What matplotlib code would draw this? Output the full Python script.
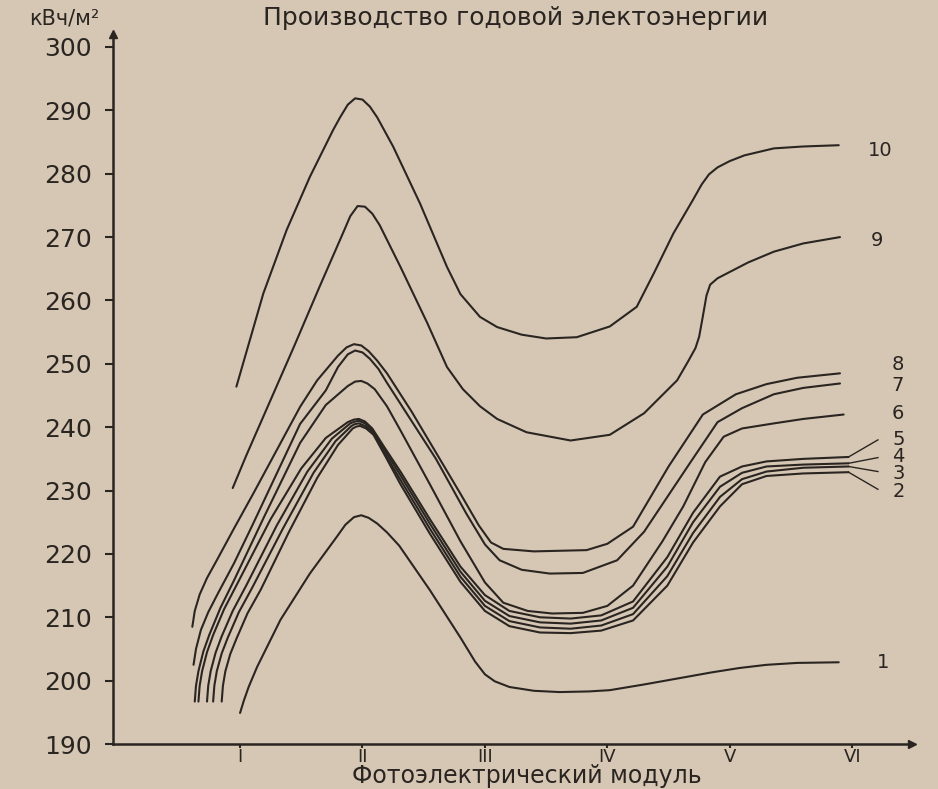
import matplotlib
matplotlib.use("Agg")
import matplotlib.pyplot as plt

# --- data: x = module position (I..VI -> 1..6), y = kWh/m2 ---
modules = ["I", "II", "III", "IV", "V", "VI"]
y_ticks = [190, 200, 210, 220, 230, 240, 250, 260, 270, 280, 290, 300]

c10_x = [0.97, 1.19, 1.38, 1.57, 1.76, 1.82, 1.88, 1.94, 2.00, 2.06, 2.12, 2.25, 2.47, 2.69, 2.80, 2.96, 3.10,
         3.30, 3.50, 3.75, 4.02, 4.24, 4.38, 4.54, 4.70, 4.77, 4.83, 4.90, 5.00, 5.12, 5.36, 5.60, 5.89]
c10_y = [246.4, 261.1, 271.1, 279.5, 286.9, 289.0, 290.9, 291.9, 291.7, 290.6, 288.9, 284.3, 275.3, 265.3, 261.0, 257.4, 255.8,
         254.6, 254.0, 254.2, 255.9, 259.0, 264.3, 270.6, 275.9, 278.3, 279.9, 281.0, 282.0, 282.9, 284.0, 284.3, 284.5]

c9_x = [0.94, 1.05, 1.22, 1.44, 1.65, 1.84, 1.90, 1.96, 2.02, 2.08, 2.14, 2.31, 2.53, 2.69, 2.82, 2.96, 3.10,
        3.34, 3.70, 4.02, 4.30, 4.57, 4.66, 4.72, 4.75, 4.78, 4.81, 4.84, 4.90, 4.98, 5.15, 5.36, 5.60, 5.90]
c9_y = [230.4, 235.5, 243.0, 252.7, 262.2, 270.6, 273.3, 274.9, 274.8, 273.7, 271.9, 265.3, 256.4, 249.5, 246.0, 243.3, 241.3,
        239.2, 237.9, 238.8, 242.2, 247.4, 250.4, 252.5, 254.3, 257.5, 260.8, 262.5, 263.5, 264.3, 266.0, 267.7, 269.0, 270.0]

c8_x = [0.61, 0.63, 0.67, 0.73, 0.81, 0.95, 1.11, 1.49, 1.63, 1.80, 1.87, 1.93, 1.99, 2.05, 2.12, 2.20, 2.40, 2.60,
        2.80, 2.95, 3.05, 3.15, 3.40, 3.83, 4.00, 4.21, 4.50, 4.78, 5.05, 5.30, 5.55, 5.90]
c8_y = [208.5, 211.0, 213.6, 216.2, 219.0, 224.0, 229.6, 243.2, 247.4, 251.3, 252.6, 253.1, 252.9, 252.0, 250.5, 248.5, 242.5, 236.0,
        229.5, 224.5, 221.8, 220.8, 220.4, 220.6, 221.6, 224.3, 233.8, 242.0, 245.2, 246.8, 247.8, 248.5]

c7_x = [0.62, 0.64, 0.68, 0.74, 0.82, 0.95, 1.10, 1.49, 1.70, 1.80, 1.88, 1.94, 2.00, 2.06, 2.13, 2.20, 2.40, 2.60,
        2.85, 3.00, 3.12, 3.30, 3.53, 3.80, 4.08, 4.30, 4.49, 4.68, 4.90, 5.10, 5.36, 5.60, 5.90]
c7_y = [202.5, 205.0, 208.0, 210.8, 213.8, 218.5, 224.5, 240.5, 245.8, 249.5, 251.5, 252.1, 251.8, 250.8, 249.2, 247.0, 241.0, 235.0,
        226.3, 221.5, 219.0, 217.5, 216.9, 217.0, 219.0, 223.5, 229.0, 234.5, 240.8, 243.0, 245.2, 246.2, 246.9]

c6_x = [0.63, 0.64, 0.66, 0.70, 0.75, 0.84, 0.95, 1.20, 1.49, 1.70, 1.88, 1.94, 1.99, 2.04, 2.10, 2.20, 2.31, 2.55,
        2.80, 3.00, 3.15, 3.35, 3.55, 3.80, 4.00, 4.21, 4.45, 4.62, 4.80, 4.95, 5.10, 5.36, 5.60, 5.93]
c6_y = [196.7, 199.2, 201.5, 204.6, 207.3, 211.5, 215.8, 226.0, 237.5, 243.5, 246.5, 247.2, 247.3, 246.9, 246.0, 243.3, 239.5, 231.0,
        222.0, 215.5, 212.3, 211.0, 210.6, 210.7, 211.8, 215.0, 222.0, 227.5, 234.5, 238.5, 239.8, 240.6, 241.3, 242.0]

c5_x = [0.66, 0.67, 0.69, 0.73, 0.78, 0.87, 0.98, 1.25, 1.50, 1.70, 1.88, 1.93, 1.97, 2.02, 2.08, 2.18, 2.31, 2.55,
        2.80, 3.00, 3.20, 3.45, 3.70, 3.95, 4.21, 4.49, 4.70, 4.92, 5.10, 5.30, 5.60, 5.97]
c5_y = [196.7, 199.2, 201.5, 204.5, 207.2, 211.3, 215.4, 225.5, 233.5, 238.3, 240.8, 241.2, 241.3, 240.9, 239.8, 236.8, 233.0, 225.5,
        218.0, 213.5, 211.0, 210.0, 209.8, 210.3, 212.5, 219.5, 226.5, 232.2, 233.8, 234.6, 235.0, 235.3]

c4_x = [0.73, 0.74, 0.76, 0.80, 0.85, 0.94, 1.05, 1.30, 1.55, 1.75, 1.90, 1.94, 1.97, 2.02, 2.08, 2.18, 2.31, 2.55,
        2.80, 3.00, 3.20, 3.45, 3.70, 3.95, 4.21, 4.49, 4.70, 4.92, 5.10, 5.30, 5.60, 5.97]
c4_y = [196.7, 199.2, 201.5, 204.4, 207.0, 211.0, 215.0, 224.5, 233.0, 238.2, 240.6, 240.9, 241.0, 240.6, 239.6, 236.4, 232.4, 224.8,
        217.2, 212.6, 210.2, 209.2, 209.0, 209.5, 211.5, 218.0, 225.0, 230.6, 232.8, 233.8, 234.1, 234.3]

c3_x = [0.78, 0.79, 0.81, 0.85, 0.90, 0.99, 1.10, 1.35, 1.60, 1.78, 1.91, 1.94, 1.97, 2.02, 2.08, 2.18, 2.31, 2.55,
        2.80, 3.00, 3.20, 3.45, 3.70, 3.95, 4.21, 4.49, 4.70, 4.92, 5.10, 5.30, 5.60, 5.97]
c3_y = [196.7, 199.2, 201.5, 204.3, 206.8, 210.8, 214.7, 224.0, 232.8, 237.8, 240.2, 240.5, 240.6, 240.2, 239.3, 235.9, 231.7, 224.0,
        216.4, 211.8, 209.4, 208.4, 208.2, 208.7, 210.5, 216.5, 223.3, 229.0, 231.8, 233.0, 233.6, 233.8]

c2_x = [0.85, 0.86, 0.88, 0.92, 0.97, 1.06, 1.17, 1.40, 1.63, 1.80, 1.92, 1.95, 1.98, 2.03, 2.09, 2.19, 2.31, 2.55,
        2.80, 3.00, 3.20, 3.45, 3.70, 3.95, 4.21, 4.49, 4.70, 4.92, 5.10, 5.30, 5.60, 5.97]
c2_y = [196.7, 199.2, 201.5, 204.2, 206.6, 210.6, 214.4, 223.5, 232.0, 237.2, 239.8, 240.1, 240.2, 239.8, 238.8, 235.3, 231.0, 223.2,
        215.6, 211.0, 208.6, 207.6, 207.5, 207.9, 209.5, 215.0, 221.8, 227.5, 231.0, 232.3, 232.7, 232.9]

c1_x = [1.00, 1.03, 1.07, 1.14, 1.33, 1.57, 1.79, 1.86, 1.93, 1.99, 2.05, 2.12, 2.20, 2.30, 2.55, 2.80, 2.92, 3.00,
        3.08, 3.20, 3.40, 3.61, 3.85, 4.02, 4.30, 4.59, 4.85, 5.08, 5.30, 5.55, 5.89]
c1_y = [194.9, 196.8, 199.0, 202.2, 209.6, 216.9, 222.7, 224.6, 225.8, 226.1, 225.7, 224.8, 223.4, 221.3, 214.3, 206.8, 203.0, 201.0,
        199.9, 199.0, 198.4, 198.2, 198.3, 198.5, 199.4, 200.4, 201.3, 202.0, 202.5, 202.8, 202.9]

curves = [(c1_x, c1_y), (c2_x, c2_y), (c3_x, c3_y), (c4_x, c4_y), (c5_x, c5_y),
          (c6_x, c6_y), (c7_x, c7_y), (c8_x, c8_y), (c9_x, c9_y), (c10_x, c10_y)]

# where the curve numbers sit, and leader ends for the bunched curves 2..5
label_pos = {1: (6.25, 202.9), 2: (6.38, 229.9), 3: (6.38, 232.7), 4: (6.38, 235.4), 5: (6.38, 238.1),
             6: (6.37, 242.2), 7: (6.37, 246.6), 8: (6.37, 249.9), 9: (6.20, 269.5), 10: (6.23, 283.7)}
leader_end = {2: 230.2, 3: 233.0, 4: 235.2, 5: 238.0}

paper = "#d6c7b5"
ink = "#2a2521"

plt.rcParams["font.family"] = ["DejaVu Sans"]

fig = plt.figure(figsize=(9.38, 7.89), dpi=100, facecolor=paper)
ax = fig.add_axes([0.1205, 0.057, 0.852, 0.8995])
ax.set_facecolor(paper)

for x, y in curves:
    ax.plot(x, y, color=ink, lw=1.5, solid_capstyle="round", solid_joinstyle="round")

for n, ye in leader_end.items():
    x, y = curves[n - 1]
    ax.plot([x[-1], 6.21], [y[-1], ye], color=ink, lw=1.0)

for n, (lx, ly) in label_pos.items():
    ax.text(lx, ly, str(n), ha="center", va="center", fontsize=14, color=ink)

ax.set_xlim(-0.0376, 6.49)
ax.set_ylim(190, 302)

for s in ["top", "right"]:
    ax.spines[s].set_visible(False)
for s in ["left", "bottom"]:
    ax.spines[s].set_linewidth(1.8)
    ax.spines[s].set_color(ink)

ax.plot(0, 1, "^", color=ink, ms=6, transform=ax.transAxes, clip_on=False)
ax.plot(1, 0, ">", color=ink, ms=6, transform=ax.transAxes, clip_on=False)

ax.set_yticks(y_ticks)
ax.set_yticklabels([str(v) for v in y_ticks])
ax.set_xticks(range(1, 7))
ax.set_xticklabels(modules)
ax.tick_params(axis="both", colors=ink, width=1.5)
ax.tick_params(axis="y", labelsize=18, length=6, pad=9)
ax.tick_params(axis="x", labelsize=13, length=3, pad=0)

fig.text(0.550, 0.977, "Производство годовой электоэнергии", ha="center", va="center",
         fontsize=18, color=ink)
fig.text(0.069, 0.977, "кВч/м²", ha="center", va="center", fontsize=15, color=ink)
fig.text(0.562, 0.007, "Фотоэлектрический модуль", ha="center", va="baseline",
         fontsize=17, color=ink)

fig.savefig("out.png", dpi=100, facecolor=paper)
